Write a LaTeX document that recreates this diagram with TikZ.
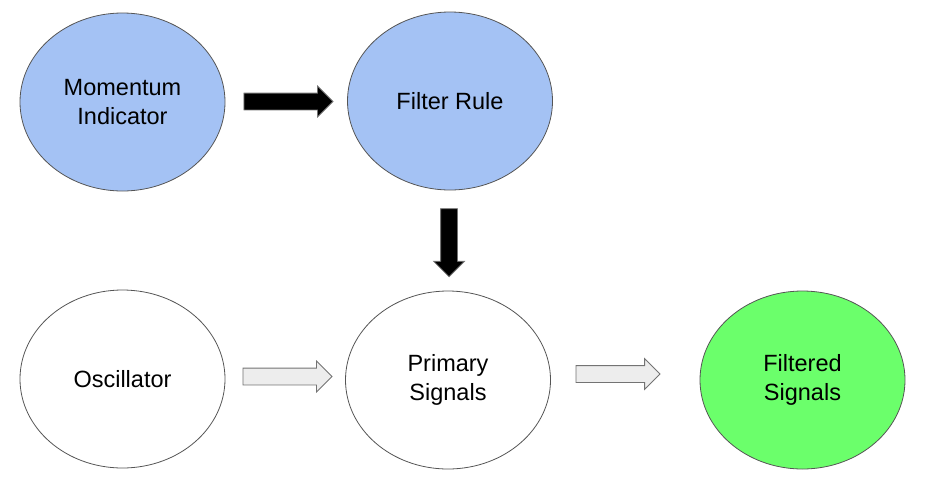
\documentclass[tikz,border=0pt]{standalone}
\usepackage{fontspec}
\setmainfont{Liberation Sans}
\usetikzlibrary{shapes.geometric,shapes.arrows,positioning,calc}
\definecolor{blueish}{HTML}{A4C2F4}
\definecolor{greenish}{HTML}{6BFF6B}
\definecolor{edgegray}{HTML}{555555}
\tikzset{
  stage/.style={ellipse, draw=edgegray, line width=0.8pt, minimum width=205pt, minimum height=178pt,
    inner sep=0pt, align=center, font=\fontsize{23.5}{28.5}\selectfont},
  blue/.style={fill=blueish},
  plain/.style={fill=white},
  green/.style={fill=greenish},
  blockarrow/.style={single arrow, inner sep=0pt, inner ysep=8pt, single arrow head extend=7pt,
    single arrow head indent=0pt, line width=0.8pt},
  solidarrow/.style={blockarrow, fill=black, draw=black!55},
  hollowarrow/.style={blockarrow, fill=black!7, draw=black!55}
}

\begin{document}
\begin{tikzpicture}[x=1pt,y=-1pt]
      \useasboundingbox (0,0) rectangle (931,477);
      \node[stage, blue] (mom) at (122.5,102) {Momentum\\Indicator};
      \node[stage, blue] (rule) at (450,101) {Filter Rule};
      \node[stage, plain] (osc) at (122.5,379) {Oscillator};
      \node[stage, plain] (prim) at (448,380) {Primary\\Signals};
      \node[stage, green] (filt) at (802.5,380) {Filtered\\Signals};
      \node[solidarrow, minimum height=89pt] (a1) at ($(mom.east)!0.5!(rule.west)+(-2,0)$) {};
      \node[solidarrow, minimum height=68pt, rotate=-90] (a2) at ($(rule.south)!0.48!(prim.north)$) {};
      \node[hollowarrow, minimum height=89pt] (a3) at ($(osc.east)!0.5!(prim.west)+(-2,-3)$) {};
      \node[hollowarrow, minimum height=84pt] (a4) at ($(prim.east)!0.45!(filt.west)+(-4,-6)$) {};
    \end{tikzpicture}
\end{document}
